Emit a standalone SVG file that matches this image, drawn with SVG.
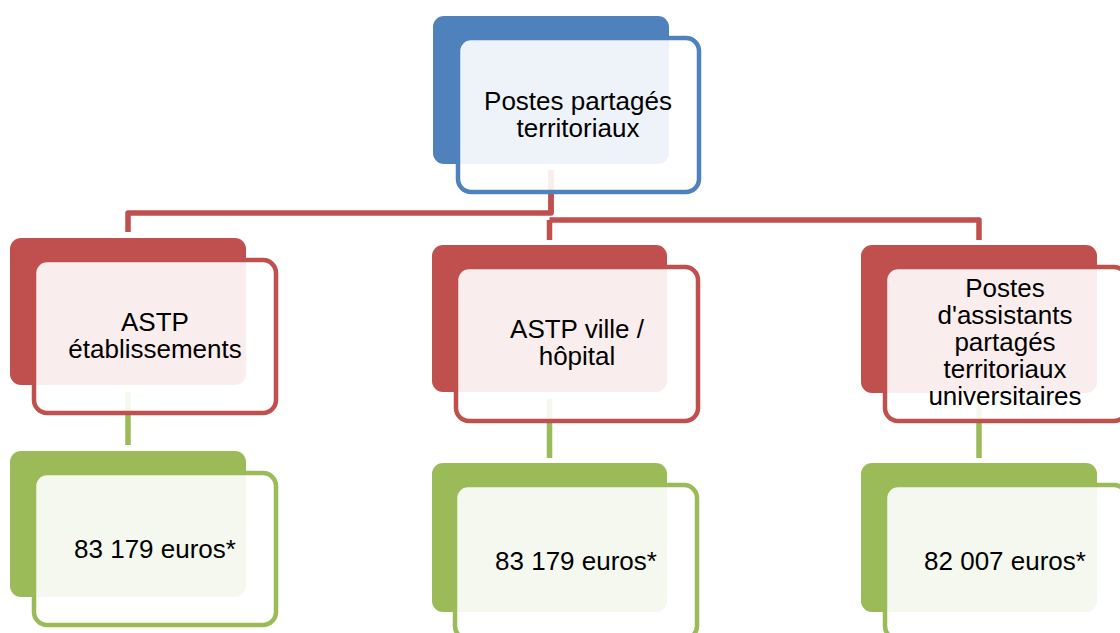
<svg xmlns="http://www.w3.org/2000/svg" width="1120" height="633" viewBox="0 0 1120 633">
<style>
.t{font-family:"Liberation Sans",Arial,sans-serif;font-size:26px;fill:#000;text-anchor:middle}
.bb{fill:#4F81BD}.rb{fill:#C0504D}.gb{fill:#9BBB59}
.bo{fill:#fff;fill-opacity:0.9;stroke:#4F81BD;stroke-width:4.5}
.ro{fill:#fff;fill-opacity:0.9;stroke:#C0504D;stroke-width:4.5}
.go{fill:#fff;fill-opacity:0.9;stroke:#9BBB59;stroke-width:4.5}
.rc{fill:none;stroke:#C0504D;stroke-width:5.5;stroke-linejoin:round}
.gc{fill:none;stroke:#9BBB59;stroke-width:5.5}
</style>
<rect width="1120" height="633" fill="#fff"/>
<g id="connectors">
<path class="rc" d="M551,170 V213 H128 V232"/>
<path class="rc" d="M551,170 V213 M549.5,220 V240 M549.5,220 H979 V240"/>
<path class="gc" d="M128,392 V445"/>
<path class="gc" d="M549.5,399 V458"/>
<path class="gc" d="M979,399 V458"/>
</g>
<g id="node-top">
<rect class="bb" x="433" y="16" width="236" height="148" rx="11"/>
<rect class="bo" x="458" y="38" width="241" height="154" rx="13"/>
<text class="t" x="578" y="110">Postes partagés</text>
<text class="t" x="578" y="137">territoriaux</text>
</g>
<g id="node-astp-etab">
<rect class="rb" x="10" y="238" width="236" height="147" rx="11"/>
<rect class="ro" x="34" y="260" width="242" height="153" rx="13"/>
<text class="t" x="155" y="331">ASTP</text>
<text class="t" x="155" y="358">établissements</text>
</g>
<g id="node-astp-ville">
<rect class="rb" x="432" y="245" width="235" height="147" rx="11"/>
<rect class="ro" x="456" y="267" width="242" height="154" rx="13"/>
<text class="t" x="577" y="338">ASTP ville /</text>
<text class="t" x="577" y="365">hôpital</text>
</g>
<g id="node-univ">
<rect class="rb" x="861" y="245" width="236" height="148" rx="11"/>
<rect class="ro" x="885" y="267" width="242" height="154" rx="13"/>
<text class="t" x="1005" y="297">Postes</text>
<text class="t" x="1005" y="324">d'assistants</text>
<text class="t" x="1005" y="351">partagés</text>
<text class="t" x="1005" y="378">territoriaux</text>
<text class="t" x="1005" y="405">universitaires</text>
</g>
<g id="node-euros-1">
<rect class="gb" x="10" y="451" width="236" height="146" rx="11"/>
<rect class="go" x="34" y="473" width="242" height="152" rx="13"/>
<text class="t" x="155" y="558">83 179 euros*</text>
</g>
<g id="node-euros-2">
<rect class="gb" x="432" y="463" width="235" height="149" rx="11"/>
<rect class="go" x="455" y="485" width="242" height="154" rx="13"/>
<text class="t" x="576" y="570">83 179 euros*</text>
</g>
<g id="node-euros-3">
<rect class="gb" x="861" y="463" width="236" height="149" rx="11"/>
<rect class="go" x="885" y="485" width="242" height="154" rx="13"/>
<text class="t" x="1005" y="570">82 007 euros*</text>
</g>
</svg>
